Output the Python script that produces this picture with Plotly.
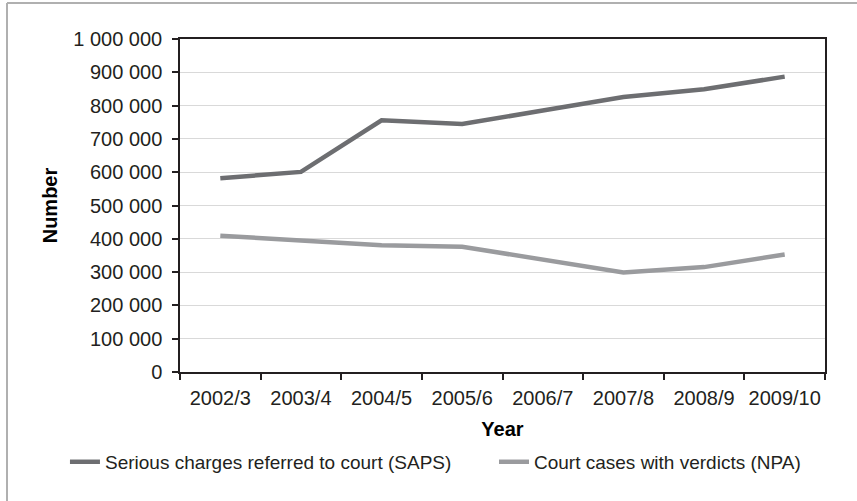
import plotly.graph_objects as go

years = ["2002/3", "2003/4", "2004/5", "2005/6", "2006/7", "2007/8", "2008/9", "2009/10"]
saps_charges = [582000, 601000, 756000, 745000, 785000, 826000, 849000, 887000]
npa_verdicts = [409000, 395000, 381000, 376000, 338000, 299000, 315000, 353000]

y_tickvals = [0, 100000, 200000, 300000, 400000, 500000, 600000, 700000, 800000, 900000, 1000000]
y_ticktext = ["0", "100 000", "200 000", "300 000", "400 000", "500 000", "600 000",
              "700 000", "800 000", "900 000", "1 000 000"]

FONT = "Liberation Sans, Arial, sans-serif"
TXT = "#231f20"

fig = go.Figure()
fig.add_trace(go.Scatter(x=years, y=saps_charges, mode="lines", legend="legend",
                         name="Serious charges referred to court (SAPS)",
                         line=dict(color="#6d6e71", width=4.5)))
fig.add_trace(go.Scatter(x=years, y=npa_verdicts, mode="lines", legend="legend2",
                         name="Court cases with verdicts (NPA)",
                         line=dict(color="#9a9b9e", width=4.5)))

leg_common = dict(orientation="h", xref="container", xanchor="left",
                  yref="container", y=0.078, yanchor="middle",
                  font=dict(size=19, color=TXT), itemwidth=30, bgcolor="rgba(0,0,0,0)")

fig.update_layout(
    width=857, height=501,
    margin=dict(l=180, r=32, t=39, b=129, autoexpand=False),
    paper_bgcolor="white", plot_bgcolor="white",
    font=dict(family=FONT, size=20, color=TXT),
    showlegend=True,
    legend=dict(x=0.0758, **leg_common),
    legend2=dict(x=0.5764, **leg_common),
    xaxis=dict(
        type="category", range=[-0.5, 7.5], automargin=True, tickangle=0,
        showline=True, linecolor=TXT, linewidth=1.5, mirror=True,
        ticks="outside", tickson="boundaries", ticklen=6, tickcolor=TXT, tickwidth=1.5,
        showgrid=False, tickfont=dict(size=20, color=TXT), ticklabelstandoff=7,
        title=dict(text="<b>Year</b>", font=dict(size=20, color="#000"), standoff=14),
    ),
    yaxis=dict(
        range=[0, 1000000], tickvals=y_tickvals, ticktext=y_ticktext, automargin=False,
        showline=True, linecolor=TXT, linewidth=1.5, mirror=True,
        ticks="outside", ticklen=6, tickcolor=TXT, tickwidth=1.5,
        showgrid=True, gridcolor="#d9d9d9", gridwidth=1.2,
        tickfont=dict(size=20, color=TXT), ticklabelstandoff=6,
        title=dict(text="<b>Number</b>", font=dict(size=20, color="#000"), standoff=10),
    ),
    shapes=[
        dict(type="line", xref="paper", yref="paper", x0=-0.2682, x1=-0.2682, y0=-0.5, y1=1.1081,
             line=dict(color="#b0b0b0", width=2)),
        dict(type="line", xref="paper", yref="paper", x0=-0.2682, x1=1.2, y0=1.1081, y1=1.1081,
             line=dict(color="#b0b0b0", width=2)),
    ],
)

fig.write_html("out.html", config={"displayModeBar": False},
               post_script="document.body.style.margin='0';")
